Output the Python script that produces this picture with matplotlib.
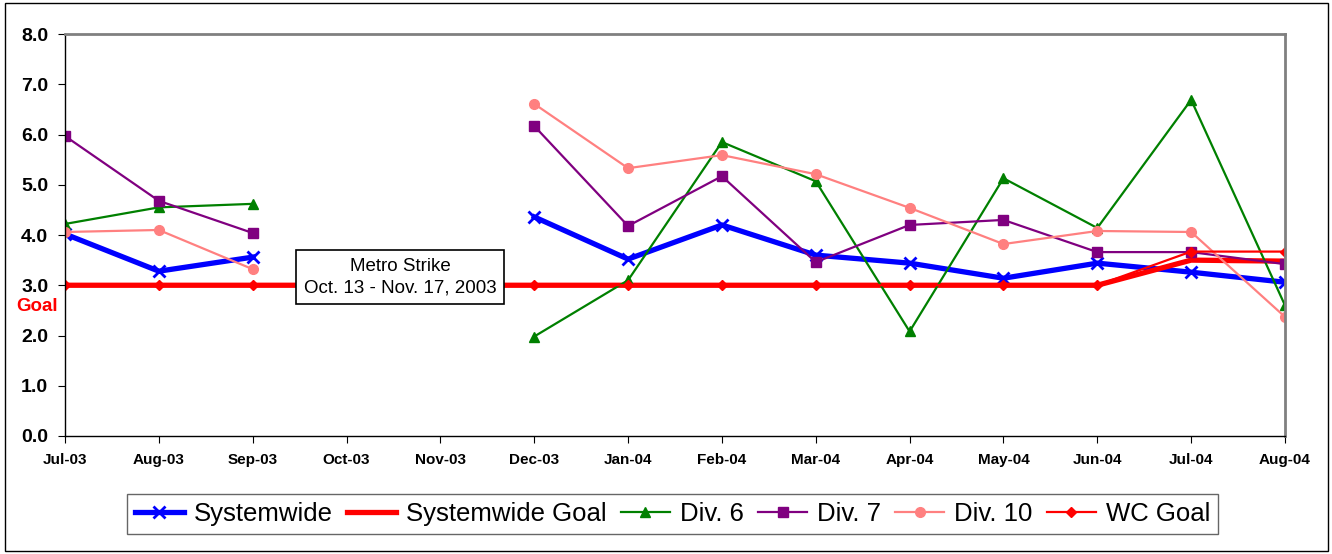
import numpy as np
import matplotlib.pyplot as plt
from matplotlib.patches import Rectangle

plt.rcParams['font.family'] = ['Liberation Sans', 'DejaVu Sans']

# months on the x axis
months = ['Jul-03', 'Aug-03', 'Sep-03', 'Oct-03', 'Nov-03', 'Dec-03', 'Jan-04',
          'Feb-04', 'Mar-04', 'Apr-04', 'May-04', 'Jun-04', 'Jul-04', 'Aug-04']

nan = np.nan
systemwide = [4.02, 3.28, 3.56, nan, nan, 4.36, 3.52, 4.20, 3.60, 3.44, 3.14, 3.44, 3.26, 3.06]
systemwide_goal = [3.0, 3.0, 3.0, 3.0, 3.0, 3.0, 3.0, 3.0, 3.0, 3.0, 3.0, 3.0, 3.50, 3.48]
div6 = [4.22, 4.55, 4.62, nan, nan, 1.98, 3.10, 5.85, 5.07, 2.08, 5.13, 4.14, 6.69, 2.60]
div7 = [5.97, 4.68, 4.04, nan, nan, 6.17, 4.18, 5.17, 3.46, 4.20, 4.30, 3.66, 3.66, 3.42]
div10 = [4.06, 4.10, 3.32, nan, nan, 6.61, 5.33, 5.59, 5.21, 4.54, 3.82, 4.08, 4.06, 2.37]
wc_goal = [3.0, 3.0, 3.0, 3.0, 3.0, 3.0, 3.0, 3.0, 3.0, 3.0, 3.0, 3.0, 3.67, 3.67]

x = np.arange(len(months))

fig = plt.figure(figsize=(13.32, 5.54), dpi=100)
ax = fig.add_axes([0.0488, 0.213, 0.9159, 0.7256])

ax.plot(x, systemwide, color='#0000FF', lw=3.8, marker='x', ms=8, mew=2, label='Systemwide')
ax.plot(x, systemwide_goal, color='#FF0000', lw=3.8, label='Systemwide Goal')
ax.plot(x, div6, color='#008000', lw=1.6, marker='^', ms=7, label='Div. 6')
ax.plot(x, div7, color='#800080', lw=1.6, marker='s', ms=7, label='Div. 7')
ax.plot(x, div10, color='#FF8080', lw=1.6, marker='o', ms=7, label='Div. 10')
ax.plot(x, wc_goal, color='#FF0000', lw=1.6, marker='D', ms=5, label='WC Goal')

ax.set_xlim(0, len(months) - 1)
ax.set_ylim(0, 8)
ax.set_yticks(np.arange(0, 9, 1))
ax.set_yticklabels(['%.1f' % v for v in np.arange(0, 9, 1)], fontsize=14, fontweight='bold')
ax.set_xticks(x)
ax.set_xticklabels(months, fontsize=11, fontweight='bold')
ax.tick_params(axis='y', direction='out', length=5, pad=7)
ax.tick_params(axis='x', direction='out', length=5, pad=7)

for s in ['top', 'right']:
    ax.spines[s].set_color('#808080')
    ax.spines[s].set_linewidth(2)
for s in ['left', 'bottom']:
    ax.spines[s].set_color('black')
    ax.spines[s].set_linewidth(1)

ax.text(3.57, 3.16, 'Metro Strike\nOct. 13 - Nov. 17, 2003', ha='center', va='center',
        fontsize=13.5, linespacing=1.4, zorder=10,
        bbox=dict(boxstyle='square,pad=0.4', fc='white', ec='black', lw=1.2))

ax.text(-0.30, 2.57, 'Goal', color='#FF0000', fontsize=13.5, fontweight='bold',
        ha='center', va='center', clip_on=False)

leg = fig.legend(loc='center', bbox_to_anchor=(0.505, 0.072), ncol=6, fontsize=18.5,
                 frameon=True, fancybox=False, handlelength=1.9, handletextpad=0.4,
                 columnspacing=0.55, borderpad=0.3)
leg.get_frame().set_edgecolor('#404040')
leg.get_frame().set_linewidth(1)

fig.patches.append(Rectangle((0.004, 0.005), 0.993, 0.99, transform=fig.transFigure,
                             fill=False, ec='black', lw=1))

fig.savefig('out.png', dpi=100)
